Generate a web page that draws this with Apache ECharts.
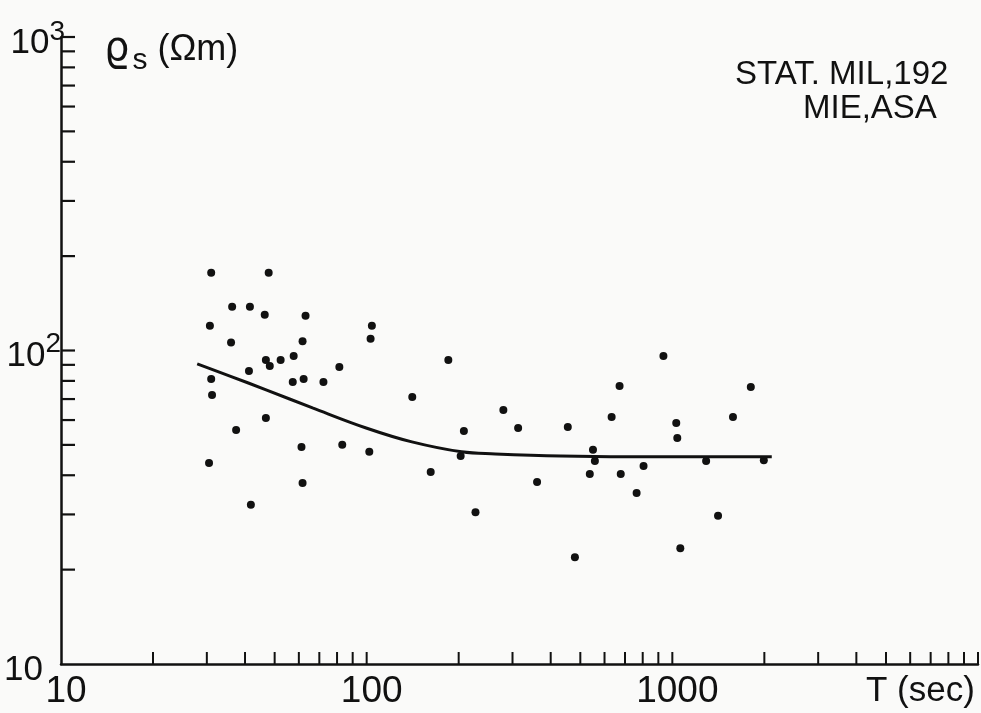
<!DOCTYPE html>
<html>
<head>
<meta charset="utf-8">
<script src="https://cdn.jsdelivr.net/npm/echarts@6/dist/echarts.min.js"></script>
<style>
html,body{margin:0;padding:0;background:#fafaf9;}
#chart{width:981px;height:713px;}
</style>
</head>
<body>
<div id="chart"></div>
<script>
// Observed apparent resistivity points: period T (sec) and rho_s (Ohm m)
const periodT = [31, 47.8, 36.3, 41.5, 46.4, 63.1, 30.7, 104, 36.0, 61.7, 103, 46.8, 48.2, 52.3, 57.7, 41.2, 81.4, 185, 31.0, 57.3, 62.2, 72.2, 31.2, 141, 46.8, 37.4, 61.2, 83.2, 102, 208, 203, 30.5, 162, 61.7, 41.8, 935, 672, 1806, 280, 633, 1579, 313, 455, 1030, 1038, 550, 558, 805, 1290, 1992, 537, 678, 361, 764, 227, 1411, 1062, 480];
const rhoS    = [177, 177, 138, 138, 130, 129, 120, 120, 106, 107, 109, 93.3, 89.2, 93.3, 96.0, 86.0, 88.6, 93.3, 81.1, 79.4, 81.1, 79.4, 72.1, 71.1, 60.9, 55.8, 49.2, 50.0, 47.5, 55.4, 46.1, 43.8, 41.0, 37.8, 32.2, 96.0, 77.1, 76.5, 64.6, 61.4, 61.4, 56.6, 57.0, 58.7, 52.6, 48.2, 44.4, 42.8, 44.4, 44.7, 40.4, 40.4, 38.1, 35.1, 30.5, 29.7, 23.4, 21.9];

// Smoothed mean curve
const curveT   = [27.9, 35.7, 47.1, 66.5, 99.6, 140.6, 204.5, 263.7, 432, 914, 2115];
const curveRho = [90.6, 82.9, 74.8, 65.6, 56.6, 51.1, 47.5, 46.8, 46.1, 45.8, 45.8];

// Axis tick values
const xTickVals = [20,30,40,50,60,70,80,90,100,200,300,400,500,600,700,800,900,1000,2000,3000,4000,5000,6000,7000,8000,9000,10000];
const yTickVals = [20,30,40,50,60,70,80,90,100,200,300,400,500,600,700,800,900,1000];
const xLabelVals = [10, 100, 1000];

const INK = '#111111';
const FONT = '"Liberation Sans", "DejaVu Sans", sans-serif';

const chart = echarts.init(document.getElementById('chart'), null, {renderer: 'canvas'});

const option = {
  backgroundColor: '#fafaf9',
  animation: false,
  grid: {left: 61, top: 37, width: 922, height: 627, containLabel: false},
  xAxis: {
    type: 'log', logBase: 10, min: 10, max: 10000,
    axisLine: {show: true, onZero: false, lineStyle: {color: INK, width: 2.5}},
    axisTick: {show: false},
    splitLine: {show: false},
    minorTick: {show: false},
    axisLabel: {
      margin: 9,
      color: INK, fontFamily: FONT, fontSize: 37,
      padding: [0, 0, 0, 10],
      formatter: function (v) { return xLabelVals.indexOf(Math.round(v)) >= 0 ? String(Math.round(v)) : ''; }
    }
  },
  yAxis: {
    type: 'log', logBase: 10, min: 10, max: 1000,
    axisLine: {show: true, onZero: false, lineStyle: {color: INK, width: 2.5}},
    axisTick: {show: false},
    splitLine: {show: false},
    axisLabel: {
      margin: -4,
      color: INK, fontFamily: FONT,
      formatter: function (v) {
        v = Math.round(v);
        if (v === 1000) return '{a|10}{s|3}';
        if (v === 100) return '{a|10}{s2|2}';
        if (v === 10) return '{c|10}';
        return '';
      },
      rich: {
        a: {fontSize: 35, fontFamily: FONT, color: INK, padding: [12, 0, 0, 0]},
        c: {fontSize: 35, fontFamily: FONT, color: INK, padding: [12, 22, 0, 0]},
        s: {fontSize: 28, fontFamily: FONT, color: INK, padding: [0, 0, 10, 0]},
        s2: {fontSize: 28, fontFamily: FONT, color: INK, padding: [0, 4, 12, 0]}
      }
    }
  },
  series: [
    {
      name: 'xticks', type: 'scatter', silent: true, clip: false,
      data: xTickVals.map(v => [v, 10]),
      symbol: 'rect', symbolSize: [2, 12], symbolOffset: [0, -6],
      itemStyle: {color: INK, opacity: 1}, z: 3
    },
    {
      name: 'yticks', type: 'scatter', silent: true, clip: false,
      data: yTickVals.map(v => [10, v]),
      symbol: 'rect', symbolSize: [14, 2.2], symbolOffset: [7, 0],
      itemStyle: {color: INK, opacity: 1}, z: 3
    },
    {
      name: 'curve', type: 'line', smooth: 0.4, silent: true,
      data: curveT.map((t, i) => [t, curveRho[i]]),
      showSymbol: false,
      lineStyle: {color: INK, width: 3}
    },
    {
      name: 'points', type: 'scatter', silent: true,
      data: periodT.map((t, i) => [t, rhoS[i]]),
      symbol: 'circle', symbolSize: 8,
      itemStyle: {color: INK, opacity: 1}
    }
  ],
  graphic: [
    {
      type: 'text', left: 104, top: 30,
      style: {
        text: '{r|ϱ}{sub|s}   {u|(Ωm)}',
        rich: {
          r: {fontSize: 40, fontFamily: '"DejaVu Sans", sans-serif', fill: INK, padding: [0, 3, 0, 0]},
          sub: {fontSize: 30, fontFamily: FONT, fill: INK, padding: [22, 0, 0, 0]},
          u: {fontSize: 36, fontFamily: FONT, fill: INK}
        },
        fill: INK
      }
    },
    {
      type: 'text', left: 735, top: 58,
      style: {text: 'STAT. MIL,192', fontSize: 33, fontFamily: FONT, fill: INK}
    },
    {
      type: 'text', left: 803, top: 92,
      style: {text: 'MIE,ASA', fontSize: 33, fontFamily: FONT, fill: INK}
    },
    {
      type: 'text', left: 866, top: 674,
      style: {text: 'T (sec)', fontSize: 35, fontFamily: FONT, fill: INK}
    }
  ]
};

chart.setOption(option);
</script>
</body>
</html>
